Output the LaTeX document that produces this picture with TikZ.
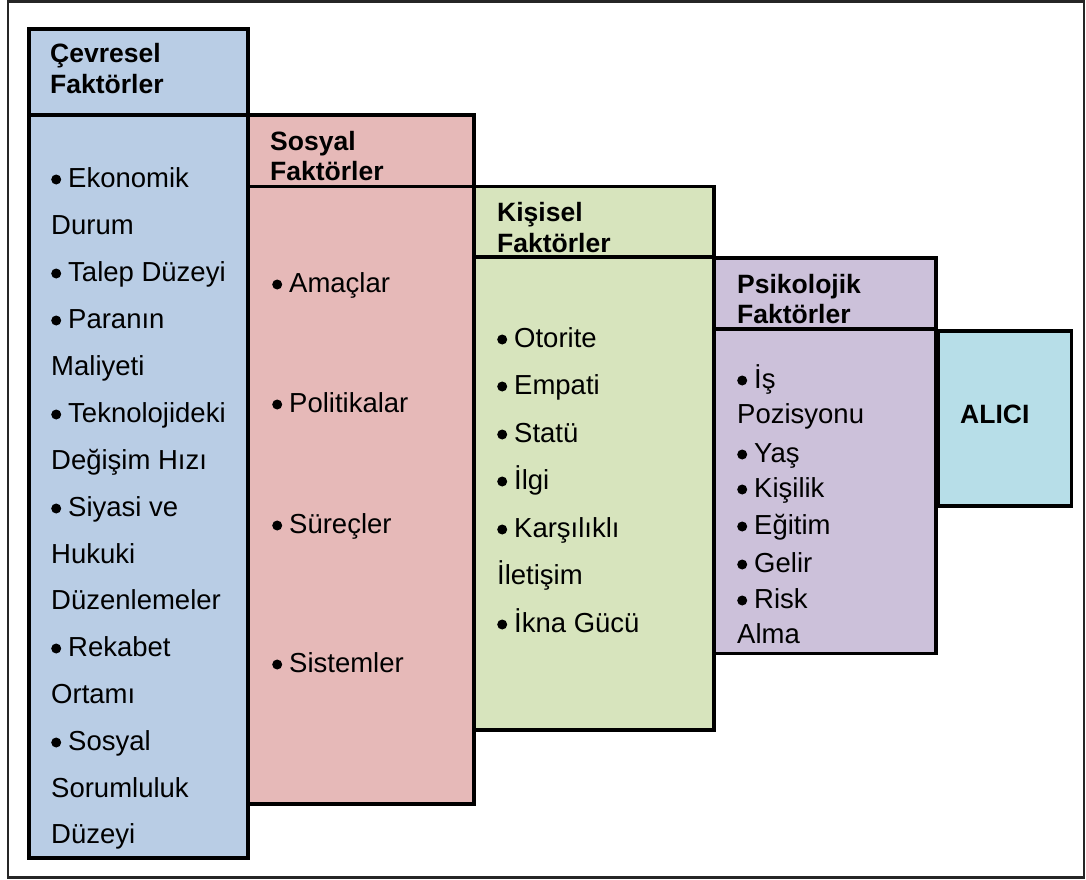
\documentclass[tikz,border=0pt]{standalone}
\usepackage{fontspec}
\setmainfont{Liberation Sans}
\definecolor{cevfill}{HTML}{B9CDE5}
\definecolor{sosfill}{HTML}{E6B9B8}
\definecolor{kisfill}{HTML}{D7E4BD}
\definecolor{psifill}{HTML}{CCC1DA}
\definecolor{alifill}{HTML}{B7DEE8}
% bullet mark placed in front of list entries
\newcommand\bl{\tikz[baseline=0pt]\fill (5pt,7.5pt) circle (5pt);\hspace{7pt}}
\begin{document}
\begin{tikzpicture}[x=1pt,y=-1pt,
  box/.style={draw=black,line width=3.5pt,inner sep=0pt,outer sep=0pt,anchor=north west},
  head/.style={anchor=base west,inner sep=0pt,font=\fontsize{26.5}{30}\selectfont\bfseries},
  item/.style={anchor=base west,inner sep=0pt,font=\fontsize{27.5}{30}\selectfont}]
\useasboundingbox (0,0) rectangle (1086,880);
% outer frame
\draw[line width=2.5pt,black!85] (8,1.5) rectangle (1084,877.5);

% Çevresel Faktörler
\node[box,fill=cevfill,minimum width=219pt,minimum height=743pt] (cev-body) at (29,115) {};
\node[box,fill=cevfill,minimum width=219pt,minimum height=86pt] (cev-head) at (29,29) {};
% Sosyal Faktörler
\node[box,fill=sosfill,minimum width=226pt,minimum height=617.5pt] (sos-body) at (248,186.5) {};
\node[box,fill=sosfill,minimum width=226pt,minimum height=71.5pt] (sos-head) at (248,115) {};
% Kişisel Faktörler
\node[box,fill=kisfill,minimum width=240pt,minimum height=473pt] (kis-body) at (474,257) {};
\node[box,fill=kisfill,minimum width=240pt,minimum height=70.5pt] (kis-head) at (474,186.5) {};
% Psikolojik Faktörler
\node[box,fill=psifill,minimum width=222pt,minimum height=324.5pt] (psi-body) at (714,329) {};
\node[box,fill=psifill,minimum width=222pt,minimum height=71pt] (psi-head) at (714,258) {};
% Alıcı
\node[box,fill=alifill,minimum width=133.5pt,minimum height=175pt] (ali-box) at (938,331) {};
\node[head] (ali-text) at (960,423) {ALICI};

% headings
\foreach \y/\t [count=\i] in {63/Çevresel,94/Faktörler}
  \node[head] (cev-t\i) at (50,\y) {\t};
\foreach \y/\t [count=\i] in {150/Sosyal,180/Faktörler}
  \node[head] (sos-t\i) at (270,\y) {\t};
\foreach \y/\t [count=\i] in {221/Kişisel,252/Faktörler}
  \node[head] (kis-t\i) at (497,\y) {\t};
\foreach \y/\t [count=\i] in {293/Psikolojik,323/Faktörler}
  \node[head] (psi-t\i) at (737,\y) {\t};

% list entries
\foreach \y/\t [count=\i] in {187/{\bl Ekonomik},234/Durum,281/{\bl Talep Düzeyi},
    328/{\bl Paranın},375/Maliyeti,422/{\bl Teknolojideki},469/{Değişim Hızı},
    516/{\bl Siyasi ve},563/Hukuki,609/Düzenlemeler,656/{\bl Rekabet},703/Ortamı,
    750/{\bl Sosyal},797/Sorumluluk,843/Düzeyi}
  \node[item] (cev-i\i) at (51,\y) {\t};
\foreach \y/\t [count=\i] in {292/{\bl Amaçlar},412/{\bl Politikalar},
    533/{\bl Süreçler},672/{\bl Sistemler}}
  \node[item] (sos-i\i) at (272,\y) {\t};
\foreach \y/\t [count=\i] in {347/{\bl Otorite},394/{\bl Empati},442/{\bl Statü},
    489/{\bl İlgi},537/{\bl Karşılıklı},584/İletişim,632/{\bl İkna Gücü}}
  \node[item] (kis-i\i) at (497,\y) {\t};
\foreach \y/\t [count=\i] in {388/{\bl İş},423/Pozisyonu,462/{\bl Yaş},497/{\bl Kişilik},
    534/{\bl Eğitim},572/{\bl Gelir},608/{\bl Risk},643/Alma}
  \node[item] (psi-i\i) at (737,\y) {\t};
\end{tikzpicture}
\end{document}
